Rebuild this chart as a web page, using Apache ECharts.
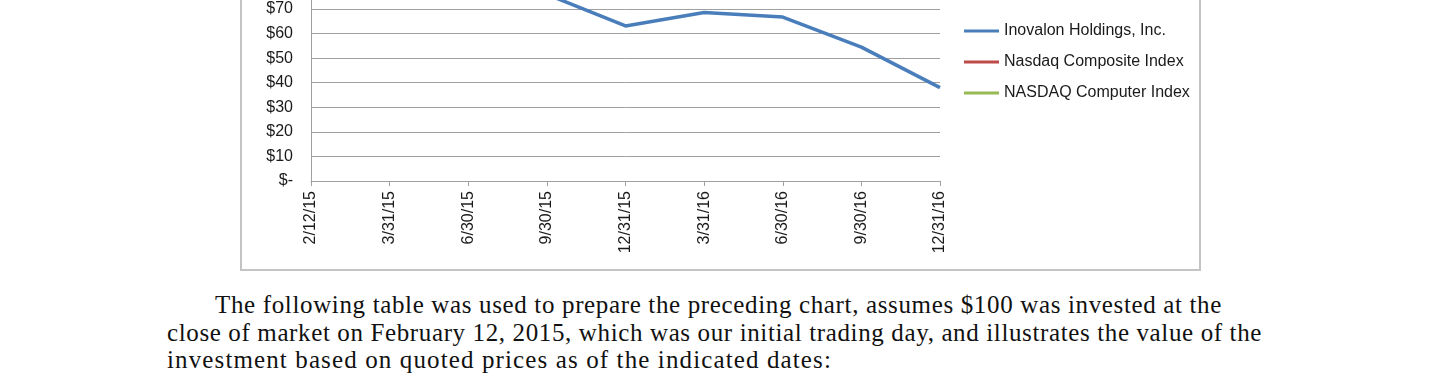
<!DOCTYPE html>
<html>
<head>
<meta charset="utf-8">
<script src="https://cdn.jsdelivr.net/npm/echarts@6/dist/echarts.min.js"></script>
<style>
    html, body {
        margin: 0;
        padding: 0;
        width: 1440px;
        height: 375px;
        overflow: hidden;
        background: #fff;
    }
    #frame {
        position: absolute;
        left: 240px;
        top: -60px;
        width: 957px;
        height: 327px;
        border: 2px solid #c4c4c4;
    }
    #myChart {
        position: absolute;
        left: 0;
        top: -220px;
        width: 1440px;
        height: 490px;
    }
    .para {
        position: absolute;
        font-family: "Liberation Serif", "DejaVu Serif", serif;
        font-size: 25px;
        line-height: 28px;
        color: #111;
        white-space: nowrap;
    }
</style>
</head>
<body>
<div id="frame"></div>
<div id="myChart"></div>
<div class="para" data-w="1007" style="left:215px;top:291px;">The following table was used to prepare the preceding chart, assumes $100 was invested at the</div>
<div class="para" data-w="1095" style="left:167px;top:319px;">close of market on February 12, 2015, which was our initial trading day, and illustrates the value of the</div>
<div class="para" data-w="665" style="left:167px;top:346px;">investment based on quoted prices as of the indicated dates:</div>

<script>
    // dates on the x axis
    var dates = ['2/12/15', '3/31/15', '6/30/15', '9/30/15', '12/31/15',
        '3/31/16', '6/30/16', '9/30/16', '12/31/16'];
    // value of $100 invested (top of the chart is cut off, upper values estimated)
    var inovalon = [100, 112, 92, 76, 63.1, 68.6, 66.7, 54.5, 38];
    var nasdaqComposite = [100, 101, 103, 95, 103, 100, 100, 109, 111];
    var nasdaqComputer = [100, 98, 101, 95, 103, 101, 99, 113, 117];

    var seriesNames = ['Inovalon Holdings, Inc.', 'Nasdaq Composite Index', 'NASDAQ Computer Index'];
    var colors = ['#4a7ebb', '#be4b48', '#98b954'];

    // stretch each paragraph line to the width it has in the scan
    document.querySelectorAll('.para').forEach(function (el) {
        var target = +el.getAttribute('data-w');
        var natural = el.getBoundingClientRect().width;
        var n = el.textContent.length;
        el.style.letterSpacing = ((target - natural) / n) + 'px';
    });

    var myChart = echarts.init(document.getElementById('myChart'));
    var textColor = '#1a1a1a';
    var fontName = '"Liberation Sans", Arial, sans-serif';

    myChart.setOption({
        animation: false,
        color: colors,
        grid: {
            left: 311,
            right: 500,
            top: 57,
            bottom: 89
        },
        legend: {
            data: seriesNames,
            orient: 'vertical',
            left: 959,
            top: 237,
            icon: 'rect',
            itemWidth: 35,
            itemHeight: 3,
            itemGap: 13,
            textStyle: {
                fontFamily: fontName,
                fontSize: 16,
                lineHeight: 18,
                color: textColor
            }
        },
        xAxis: {
            type: 'category',
            boundaryGap: false,
            data: dates,
            axisLine: {lineStyle: {color: '#a0a0a0', width: 1}},
            axisTick: {show: true, length: 5, lineStyle: {color: '#a0a0a0'}},
            axisLabel: {
                rotate: 90,
                margin: 10,
                interval: 0,
                fontFamily: fontName,
                fontSize: 16,
                color: textColor
            }
        },
        yAxis: {
            type: 'value',
            min: 0,
            max: 140,
            interval: 10,
            axisLine: {show: true, lineStyle: {color: '#a0a0a0', width: 1}},
            axisTick: {show: false},
            splitLine: {lineStyle: {color: '#a0a0a0', width: 1}},
            axisLabel: {
                margin: 18,
                fontFamily: fontName,
                fontSize: 16,
                color: textColor,
                formatter: function (v) {
                    return v === 0 ? '$-' : '$' + v;
                }
            }
        },
        series: [
            {name: seriesNames[0], type: 'line', data: inovalon, symbol: 'none', lineStyle: {width: 3.5}},
            {name: seriesNames[1], type: 'line', data: nasdaqComposite, symbol: 'none', lineStyle: {width: 3.5}},
            {name: seriesNames[2], type: 'line', data: nasdaqComputer, symbol: 'none', lineStyle: {width: 3.5}}
        ]
    });
</script>
</body>
</html>
